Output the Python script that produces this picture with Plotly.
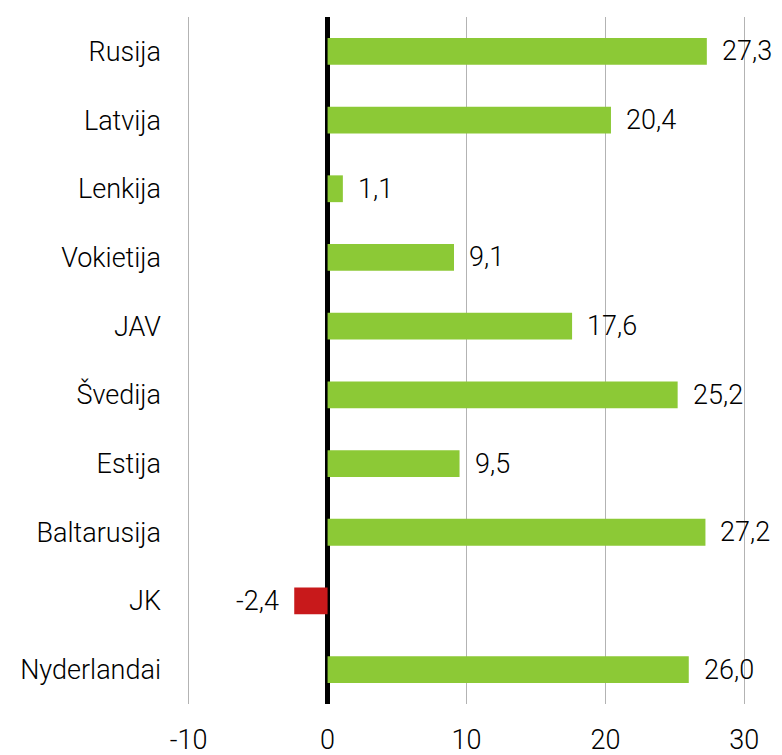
import plotly.graph_objects as go

categories = ["Rusija", "Latvija", "Lenkija", "Vokietija", "JAV", "Švedija",
              "Estija", "Baltarusija", "JK", "Nyderlandai"]
values = [27.3, 20.4, 1.1, 9.1, 17.6, 25.2, 9.5, 27.2, -2.4, 26.0]
x_ticks = [-10, 0, 10, 20, 30]

GREEN = "#8cc936"
RED = "#c8191b"
FONT = "Roboto"
FS = 27

colors = [GREEN if v >= 0 else RED for v in values]

fig = go.Figure()
fig.add_trace(go.Bar(
    x=values, y=categories, orientation="h",
    marker=dict(color=colors, line=dict(width=0)),
    hoverinfo="skip",
))

for c, v in zip(categories, values):
    fig.add_annotation(
        x=v, y=c, xref="x", yref="y",
        text=f"{v:.1f}".replace(".", ","),
        showarrow=False,
        xanchor="left" if v >= 0 else "right",
        xshift=13 if v >= 0 else -13,
        font=dict(family=FONT, size=FS, color="#000000", weight=300),
    )

# page body has an 8px margin; offsets compensate for it
fig.update_layout(
    width=782, height=755,
    margin=dict(l=179, r=44, t=9, b=59),
    paper_bgcolor="white", plot_bgcolor="white",
    bargap=0.61,
    showlegend=False,
    separators=", ",
    font=dict(family=FONT, size=FS, color="#000000", weight=300),
)
fig.update_xaxes(
    range=[-10.12, 30.12], tickvals=x_ticks,
    ticktext=[str(t) for t in x_ticks],
    showgrid=True, gridcolor="#b3b3b3", gridwidth=1,
    zeroline=True, zerolinecolor="#000000", zerolinewidth=5,
    showline=False, ticks="", ticklabelstandoff=17,
    tickfont=dict(family=FONT, size=FS, color="#000000", weight=300),
    automargin=False, fixedrange=True,
)
fig.update_yaxes(
    categoryorder="array", categoryarray=categories[::-1],
    showgrid=False, showline=False, ticks="", ticklabelstandoff=25,
    tickfont=dict(family=FONT, size=FS, color="#000000", weight=300),
    automargin=False, fixedrange=True,
)

fig.write_html("out.html")
